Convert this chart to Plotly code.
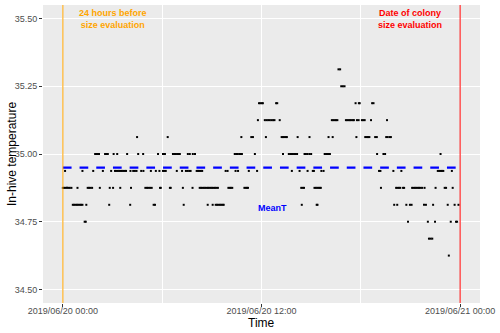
import pandas as pd
import plotly.graph_objects as go

# Hive temperature readings, grouped by sensor level (degC, 1/16 degree steps).
# Each list holds the minutes after 2019/06/20 00:00 at which that level was logged.
lvl_35_3125 = [999, 1005]
lvl_35_25 = [1009, 1015, 1021]
lvl_35_1875 = [711, 716, 721, 725, 773, 777, 1061, 1073, 1076, 1121, 1126]
lvl_35_125 = [707, 732, 738, 744, 750, 756, 762, 767, 786, 975, 980, 985, 990, 995,
              1026, 1031, 1036, 1041, 1046, 1051, 1055, 1066, 1072, 1084, 1089, 1094,
              1117, 1175]
lvl_35_0625 = [269, 380, 647, 683, 689, 736, 793, 798, 803, 808, 812, 851, 894, 963,
               978, 1064, 1096, 1101, 1106, 1111, 1132, 1138, 1172, 1177, 1184, 1189]
lvl_35_0 = [117, 122, 127, 131, 153, 158, 163, 184, 197, 233, 273, 291, 345, 363, 370,
            399, 404, 409, 414, 419, 424, 453, 460, 471, 479, 623, 628, 633, 639, 644,
            649, 696, 798, 819, 824, 829, 834, 839, 844, 849, 876, 881, 887, 894, 900,
            949, 954, 959, 964, 968, 1139, 1162, 1168, 1369]
lvl_34_9375 = [8, 71, 110, 145, 175, 189, 194, 199, 204, 209, 214, 219, 224, 229, 245,
               255, 261, 267, 284, 292, 319, 337, 350, 363, 368, 373, 413, 432, 446,
               452, 458, 463, 485, 490, 495, 500, 505, 590, 597, 626, 635, 674, 704,
               830, 858, 887, 906, 910, 937, 945, 1146, 1151, 1198, 1227, 1359, 1364,
               1369, 1374, 1379, 1410]
lvl_34_875 = [0, 5, 10, 15, 20, 25, 31, 53, 90, 95, 100, 106, 134, 170, 182, 208, 247,
              299, 305, 310, 316, 322, 352, 355, 388, 391, 435, 470, 496, 501, 506, 511,
              516, 521, 526, 531, 536, 541, 546, 551, 556, 562, 600, 605, 609, 614, 658,
              663, 667, 671, 864, 869, 874, 912, 917, 922, 927, 931, 935, 1153, 1208,
              1213, 1218, 1223, 1233, 1237, 1266, 1271, 1276, 1281, 1286, 1291, 1296,
              1302, 1311, 1351, 1384, 1389, 1413]
lvl_34_8125 = [36, 41, 46, 51, 56, 61, 66, 71, 85, 168, 244, 329, 334, 438, 525, 543,
               554, 559, 564, 569, 574, 579, 583, 866, 920, 923, 1201, 1212, 1245, 1258,
               1264, 1309, 1316, 1342, 1395, 1420, 1434]
lvl_34_75 = [79, 83, 1251, 1323, 1349, 1406, 1425, 1429]
lvl_34_6875 = [1327, 1333, 1339]
lvl_34_625 = [1399]

levels = [
    (35.3125, lvl_35_3125), (35.25, lvl_35_25), (35.1875, lvl_35_1875),
    (35.125, lvl_35_125), (35.0625, lvl_35_0625), (35.0, lvl_35_0),
    (34.9375, lvl_34_9375), (34.875, lvl_34_875), (34.8125, lvl_34_8125),
    (34.75, lvl_34_75), (34.6875, lvl_34_6875), (34.625, lvl_34_625),
]

mean_temp = 34.95
start = pd.Timestamp("2019-06-20 00:00")
end = pd.Timestamp("2019-06-21 00:00")
x_breaks = [start, pd.Timestamp("2019-06-20 12:00"), end]
x_minor = [pd.Timestamp("2019-06-20 06:00"), pd.Timestamp("2019-06-20 18:00")]
y_breaks = [34.50, 34.75, 35.00, 35.25, 35.50]

times = [start + pd.Timedelta(minutes=m) for _, ms in levels for m in ms]
temps = [v for v, ms in levels for _ in ms]

span = end - start
x_range = [start - span * 0.05, end + span * 0.05]
y_range = [34.45, 35.55]

FONT = "Liberation Sans, Arial, sans-serif"

fig = go.Figure()
fig.add_trace(go.Scatter(
    x=times, y=temps, mode="markers",
    marker=dict(symbol="square", size=2, color="black", line=dict(width=0)),
    hoverinfo="skip", showlegend=False,
))
fig.add_trace(go.Scatter(
    x=[start, end], y=[mean_temp, mean_temp], mode="lines",
    line=dict(color="#0000FF", width=2.3, dash="8.7px,8px"),
    hoverinfo="skip", showlegend=False,
))

# Reference lines: 24 h before and the date of colony size evaluation
fig.add_shape(type="line", xref="x", yref="paper", x0=start, x1=start, y0=0, y1=1,
              line=dict(color="#FFA500", width=1))
fig.add_shape(type="line", xref="x", yref="paper", x0=end, x1=end, y0=0, y1=1,
              line=dict(color="#FF0000", width=1))

note_font = dict(family=FONT, size=9)
fig.add_annotation(x=pd.Timestamp("2019-06-20 03:00"), y=35.5,
                   text="<b>24 hours before</b><br><b>size evaluation</b>",
                   showarrow=False, font=dict(color="#FFA500", **note_font),
                   align="center", xanchor="center", yanchor="middle")
fig.add_annotation(x=pd.Timestamp("2019-06-20 21:00"), y=35.5,
                   text="<b>Date of colony</b><br><b>size evaluation</b>",
                   showarrow=False, font=dict(color="#FF0000", **note_font),
                   align="center", xanchor="center", yanchor="middle")
fig.add_annotation(x=pd.Timestamp("2019-06-20 12:40"), y=34.8,
                   text="<b>MeanT</b>", showarrow=False,
                   font=dict(color="#0000FF", **note_font),
                   xanchor="center", yanchor="middle")

# Axis titles
title_font = dict(family=FONT, size=12, color="black")
fig.add_annotation(xref="paper", yref="paper", x=0, y=0.5, xshift=-31,
                   text="In-hive temperature", textangle=-90, showarrow=False,
                   font=title_font, xanchor="center", yanchor="middle")
fig.add_annotation(xref="paper", yref="paper", x=0.5, y=0, yshift=-20,
                   text="Time", showarrow=False,
                   font=title_font, xanchor="center", yanchor="middle")

fig.update_layout(
    width=500, height=333,
    margin=dict(l=43, r=17, t=5, b=30),
    paper_bgcolor="white", plot_bgcolor="#EBEBEB",
    font=dict(family=FONT),
    xaxis=dict(
        type="date", range=x_range,
        tickvals=x_breaks, tickformat="%Y/%m/%d %H:%M",
        tickfont=dict(size=9, color="#4D4D4D", family=FONT),
        ticks="outside", ticklen=3, tickcolor="#333333", tickwidth=1,
        ticklabelstandoff=-4,
        showgrid=True, gridcolor="white", gridwidth=1,
        minor=dict(tickvals=x_minor, showgrid=True, gridcolor="white", gridwidth=1, ticks=""),
        zeroline=False, showline=False,
    ),
    yaxis=dict(
        range=y_range, tickvals=y_breaks, tickformat=".2f",
        tickfont=dict(size=9, color="#4D4D4D", family=FONT),
        ticks="outside", ticklen=3, tickcolor="#333333", tickwidth=1,
        showgrid=True, gridcolor="white", gridwidth=1,
        zeroline=False, showline=False,
    ),
)

fig.write_html("out.html")
